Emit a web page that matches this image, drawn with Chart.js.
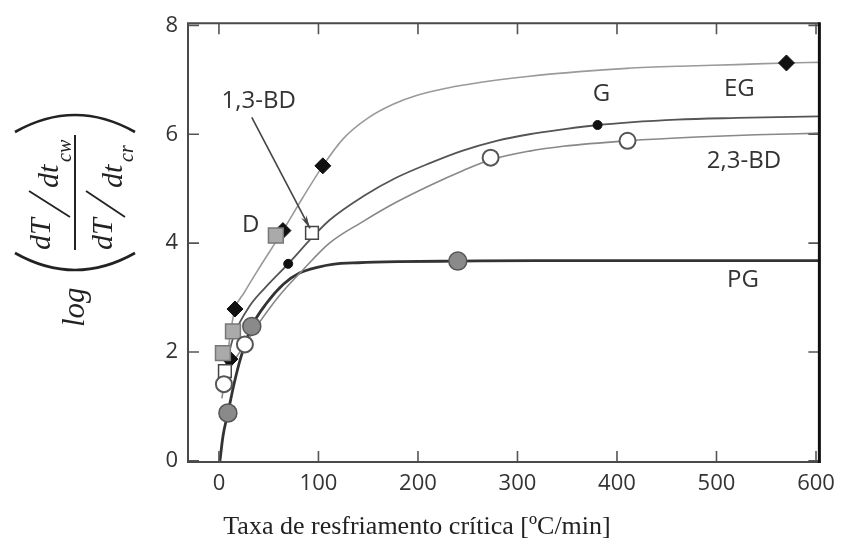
<!DOCTYPE html>
<html><head><meta charset="utf-8">
<script src="https://cdn.jsdelivr.net/npm/chart.js@4.4.1/dist/chart.umd.min.js"></script>
<style>html,body{margin:0;padding:0;background:#fff;}#wrap{width:844px;height:550px;}</style>
</head><body><div id="wrap"><canvas id="c" width="844" height="550"></canvas></div>
<script>
// ---- axis ticks ----
const xTicks = [0, 100, 200, 300, 400, 500, 600];
const yTicks = [0, 2, 4, 6, 8];

// ---- measured points ----
const egX  = [11, 16.1, 64.3, 104.4, 570.3];
const egY  = [1.87, 2.79, 4.23, 5.42, 7.31];
const gX   = [69.6, 380.5];
const gY   = [3.62, 6.17];
const dX   = [4, 14.1, 57.2];
const dY   = [1.98, 2.38, 4.14];
const bd13X = [6, 93.5];
const bd13Y = [1.65, 4.19];
const bd23X = [5, 26.1, 273, 410.6];
const bd23Y = [1.41, 2.14, 5.57, 5.88];
const pgX  = [9, 33, 240];
const pgY  = [0.88, 2.47, 3.67];

// ---- fitted curves ----
const egCurveX = [9, 12, 16.1, 25, 40, 64.3, 84, 104.4, 125, 150, 175, 200, 230, 262, 310, 362, 410, 463, 520, 570.3, 603.4];
const egCurveY = [2.0, 2.4, 2.79, 3.08, 3.53, 4.23, 4.83, 5.42, 5.92, 6.3, 6.55, 6.72, 6.85, 6.95, 7.06, 7.15, 7.21, 7.25, 7.28, 7.31, 7.32];
const gCurveX  = [6, 15, 31, 50, 69.6, 93.5, 111, 145, 178, 212, 245, 279, 312, 346, 380.5, 413, 460, 520, 603.4];
const gCurveY  = [1.7, 2.3, 2.85, 3.25, 3.62, 4.1, 4.42, 4.86, 5.2, 5.47, 5.7, 5.88, 6.0, 6.09, 6.17, 6.22, 6.27, 6.3, 6.33];
const bd23CurveX = [3, 5, 10, 15, 26.1, 39, 60, 85, 111, 145, 178, 212, 245, 273, 312, 346, 410.6, 480, 540, 603.4];
const bd23CurveY = [1.15, 1.41, 1.65, 1.83, 2.14, 2.5, 3.02, 3.52, 4.0, 4.4, 4.75, 5.06, 5.33, 5.53, 5.69, 5.78, 5.88, 5.95, 5.99, 6.02];
const pgCurveX = [1, 4, 9, 15, 22, 33, 48, 65, 81, 100, 114, 140, 180, 240, 320, 450, 603.4];
const pgCurveY = [0, 0.45, 0.88, 1.4, 1.9, 2.47, 2.9, 3.25, 3.45, 3.56, 3.61, 3.64, 3.66, 3.67, 3.68, 3.68, 3.68];

// ---- series labels ----
const seriesLabels = ['EG', 'G', '2,3-BD', 'PG', 'D', '1,3-BD'];
const xTitle = 'Taxa de resfriamento crítica [ºC/min]';

const pts = (xs, ys) => xs.map((v, i) => ({x: v, y: ys[i]}));

const labelPos = [
  {t: seriesLabels[0], x: 523, y: 6.82},
  {t: seriesLabels[1], x: 384.5, y: 6.73},
  {t: seriesLabels[2], x: 527.6, y: 5.5},
  {t: seriesLabels[3], x: 526.6, y: 3.32},
  {t: seriesLabels[4], x: 32, y: 4.33},
  {t: seriesLabels[5], x: 40, y: 6.6}
];
const arrow = {x1: 33, y1: 6.31, x2: 91.5, y2: 4.27};

function curve(data, color, width) {
  return {data, showLine: true, pointRadius: 0, borderColor: color, borderWidth: width,
    cubicInterpolationMode: 'monotone', fill: false, order: 2};
}
function marks(data, style, r, bg, bc, bw) {
  return {data, showLine: false, pointStyle: style, pointRadius: r, pointBackgroundColor: bg,
    pointBorderColor: bc, pointBorderWidth: bw, order: 1};
}

const deco = {
  id: 'deco',
  afterDraw(chart) {
    const {ctx, chartArea: a, scales: {x, y}} = chart;
    ctx.save();
    // inward ticks
    ctx.strokeStyle = '#555'; ctx.lineWidth = 1.6;
    xTicks.forEach(v => {
      const px = x.getPixelForValue(v);
      ctx.beginPath();
      ctx.moveTo(px, a.bottom); ctx.lineTo(px, a.bottom - 11);
      ctx.moveTo(px, a.top); ctx.lineTo(px, a.top + 11);
      ctx.stroke();
    });
    yTicks.forEach(v => {
      const py = y.getPixelForValue(v);
      ctx.beginPath();
      ctx.moveTo(a.left, py); ctx.lineTo(a.left + 11, py);
      ctx.moveTo(a.right, py); ctx.lineTo(a.right - 11, py);
      ctx.stroke();
    });
    // frame
    ctx.strokeStyle = '#4a4a4a'; ctx.lineWidth = 2;
    ctx.beginPath();
    ctx.moveTo(a.right, a.top); ctx.lineTo(a.left, a.top); ctx.lineTo(a.left, a.bottom); ctx.lineTo(a.right, a.bottom);
    ctx.stroke();
    ctx.strokeStyle = '#111'; ctx.lineWidth = 3;
    ctx.beginPath(); ctx.moveTo(a.right, a.top - 1); ctx.lineTo(a.right, a.bottom + 1); ctx.stroke();

    // series labels
    ctx.fillStyle = '#333';
    ctx.font = "24px 'Open Sans'";
    ctx.textAlign = 'center'; ctx.textBaseline = 'middle';
    labelPos.forEach(l => ctx.fillText(l.t, x.getPixelForValue(l.x), y.getPixelForValue(l.y)));
    // arrow
    const ax1 = x.getPixelForValue(arrow.x1), ay1 = y.getPixelForValue(arrow.y1);
    const ax2 = x.getPixelForValue(arrow.x2), ay2 = y.getPixelForValue(arrow.y2);
    ctx.strokeStyle = '#444'; ctx.lineWidth = 1.6;
    ctx.beginPath(); ctx.moveTo(ax1, ay1); ctx.lineTo(ax2, ay2); ctx.stroke();
    const ang = Math.atan2(ay2 - ay1, ax2 - ax1);
    ctx.fillStyle = '#444';
    ctx.beginPath();
    ctx.moveTo(ax2, ay2);
    ctx.lineTo(ax2 - 14 * Math.cos(ang - 0.22), ay2 - 14 * Math.sin(ang - 0.22));
    ctx.lineTo(ax2 - 9 * Math.cos(ang), ay2 - 9 * Math.sin(ang));
    ctx.lineTo(ax2 - 14 * Math.cos(ang + 0.22), ay2 - 14 * Math.sin(ang + 0.22));
    ctx.closePath(); ctx.fill();

    // x title
    ctx.fillStyle = '#222';
    ctx.font = "26px 'Liberation Serif'";
    ctx.textAlign = 'center'; ctx.textBaseline = 'middle';
    ctx.fillText(xTitle, 417, 527);

    // y title (math expression, rotated)
    ctx.translate(75, 327); ctx.rotate(-Math.PI / 2);
    ctx.fillStyle = '#222'; ctx.strokeStyle = '#222';
    ctx.textAlign = 'left'; ctx.textBaseline = 'alphabetic';
    const F = "'Liberation Serif', serif";
    ctx.font = "italic 31px " + F;
    ctx.fillText('log', 0, 9);
    // parentheses
    ctx.lineWidth = 2.6;
    ctx.beginPath(); ctx.moveTo(74, -60); ctx.quadraticCurveTo(40, 0, 74, 60); ctx.stroke();
    ctx.beginPath(); ctx.moveTo(195, -60); ctx.quadraticCurveTo(229, 0, 195, 60); ctx.stroke();
    // fraction bar
    ctx.lineWidth = 2;
    ctx.beginPath(); ctx.moveTo(77, 0); ctx.lineTo(192, 0); ctx.stroke();
    // numerator
    ctx.font = "italic 30px " + F;
    ctx.fillText('dT', 77, -25);
    ctx.lineWidth = 1.8;
    ctx.beginPath(); ctx.moveTo(110, -5); ctx.lineTo(136, -46); ctx.stroke();
    ctx.fillText('dt', 139, -17);
    ctx.font = "italic 20px " + F;
    ctx.fillText('cw', 165, -4);
    // denominator
    ctx.font = "italic 30px " + F;
    ctx.fillText('dT', 77, 37);
    ctx.beginPath(); ctx.moveTo(110, 50); ctx.lineTo(136, 11); ctx.stroke();
    ctx.fillText('dt', 139, 47);
    ctx.font = "italic 20px " + F;
    ctx.fillText('cr', 165, 58);
    ctx.restore();
  }
};

new Chart(document.getElementById('c'), {
  type: 'scatter',
  data: {datasets: [
    marks(pts(pgX, pgY), 'circle', 9, '#8a8a8a', '#555', 1.5),
    marks(pts(bd23X, bd23Y), 'circle', 8, '#fff', '#555', 2),
    marks(pts(bd13X, bd13Y), 'rect', 9, '#fff', '#444', 1.5),
    marks(pts(dX, dY), 'rect', 10.5, '#aaa', '#777', 1.5),
    marks(pts(gX, gY), 'circle', 4.5, '#111', '#111', 1),
    marks(pts(egX, egY), 'rectRot', 8, '#111', '#111', 1),
    curve(pts(egCurveX, egCurveY), '#9a9a9a', 1.6),
    curve(pts(gCurveX, gCurveY), '#555', 1.8),
    curve(pts(bd23CurveX, bd23CurveY), '#888', 1.6),
    curve(pts(pgCurveX, pgCurveY), '#333', 2.8)
  ]},
  options: {
    responsive: false, animation: false, devicePixelRatio: 1,
    layout: {padding: {left: 0, right: 24, top: 18, bottom: 0}},
    plugins: {legend: {display: false}, tooltip: {enabled: false}},
    scales: {
      x: {type: 'linear', min: -31.1, max: 603.4,
        afterBuildTicks: s => { s.ticks = xTicks.map(v => ({value: v})); },
        afterFit: s => { s.height = 88; },
        grid: {display: false, drawTicks: false}, border: {display: false},
        ticks: {font: {family: 'Open Sans', size: 22}, color: '#333', padding: 9, maxRotation: 0, autoSkip: false}},
      y: {type: 'linear', min: -0.02, max: 8.04,
        afterBuildTicks: s => { s.ticks = yTicks.map(v => ({value: v})); },
        afterFit: s => { s.width = 188; },
        grid: {display: false, drawTicks: false}, border: {display: false},
        ticks: {font: {family: 'Open Sans', size: 22}, color: '#333', padding: 10, autoSkip: false}}
    }
  },
  plugins: [deco]
});
</script></body></html>
